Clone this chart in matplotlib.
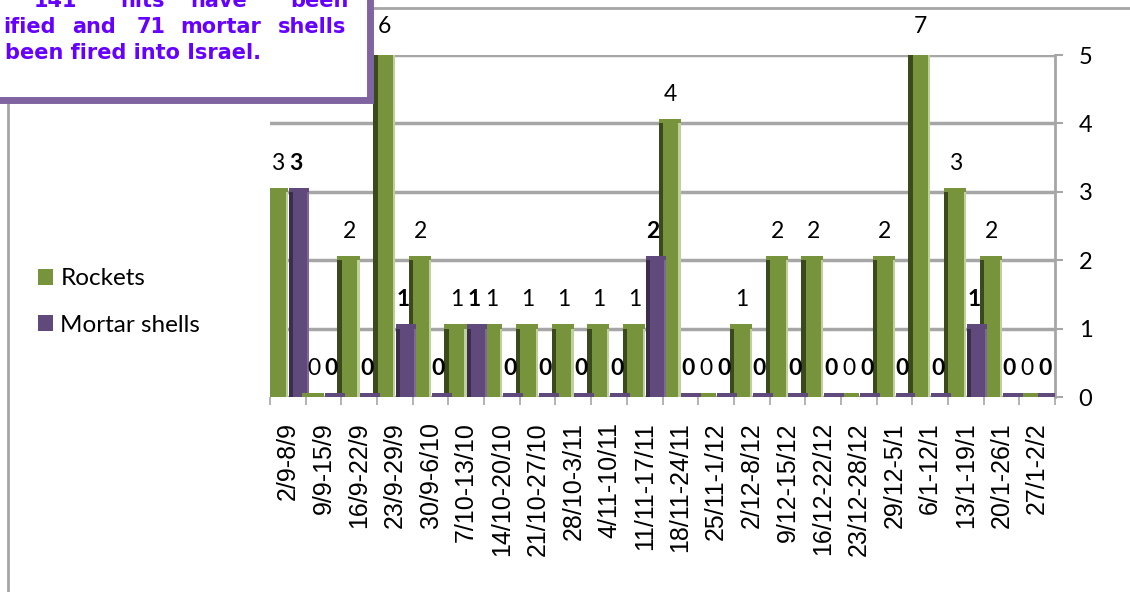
import numpy as np
import matplotlib.pyplot as plt
from matplotlib.patches import Patch, Rectangle
from matplotlib.lines import Line2D

weeks = ['2/9-8/9', '9/9-15/9', '16/9-22/9', '23/9-29/9', '30/9-6/10', '7/10-13/10',
         '14/10-20/10', '21/10-27/10', '28/10-3/11', '4/11-10/11', '11/11-17/11',
         '18/11-24/11', '25/11-1/12', '2/12-8/12', '9/12-15/12', '16/12-22/12',
         '23/12-28/12', '29/12-5/1', '6/1-12/1', '13/1-19/1', '20/1-26/1', '27/1-2/2']
rockets = [3, 0, 2, 6, 2, 1, 1, 1, 1, 1, 1, 4, 0, 1, 2, 2, 0, 2, 7, 3, 2, 0]
mortars = [3, 0, 0, 1, 0, 1, 0, 0, 0, 0, 2, 0, 0, 0, 0, 0, 0, 0, 0, 1, 0, 0]
yticks = [0, 1, 2, 3, 4, 5]

W, H = 1130, 592
YMAX = 5
GREEN, GREEN_DK, GREEN_LT = '#77933c', '#3a4a1c', '#bfd19a'
PURPLE, PURPLE_DK, PURPLE_LT = '#604a7b', '#3b2d4c', '#7d6898'
GRID = '#a6a6a6'


def fx(px):
    return px / W


def fy(py):
    return 1 - py / H


def bars_3d(ax, xpos, vals, width, face, dark, light):
    shown = np.minimum(vals, YMAX)
    side = width * 0.2
    ax.bar(xpos, shown, width, color=face, zorder=3, linewidth=0)
    ax.bar(xpos - width / 2 + side / 2, shown, side, color=dark, zorder=3, linewidth=0)
    ax.bar(xpos + width / 2 - side / 4, shown, side / 2, color=light, zorder=3, linewidth=0)
    # top face of the bar (also the flat strip for zero values)
    ax.bar(xpos, 0.06, width, bottom=shown, color=face, zorder=4, linewidth=0)
    return shown


fig = plt.figure(figsize=(W / 100, H / 100), dpi=100)
ax = fig.add_axes([fx(270), fy(397), fx(785), (397 - 55) / H])

x = np.arange(len(weeks))
r_shown = bars_3d(ax, x - 0.30, np.array(rockets), 0.62, GREEN, GREEN_DK, GREEN_LT)
m_shown = bars_3d(ax, x + 0.31, np.array(mortars), 0.56, PURPLE, PURPLE_DK, PURPLE_LT)

for i in range(len(weeks)):
    ax.text(x[i] - 0.28, r_shown[i] + 0.42, str(rockets[i]), ha='center', va='center',
            fontsize=16.5, family='Lato', color='black', clip_on=False)
    ax.text(x[i] + 0.22, m_shown[i] + 0.42, str(mortars[i]), ha='center', va='center',
            fontsize=16.5, family='Lato', fontweight='bold', color='black', clip_on=False)

ax.set_xlim(-0.5, len(weeks) - 0.5)
ax.set_ylim(0, YMAX)
ax.set_yticks(yticks)
ax.yaxis.tick_right()
ax.tick_params(axis='y', colors=GRID, labelcolor='black', labelsize=17, length=6,
               width=1.5, pad=11)
for lab in ax.get_yticklabels():
    lab.set_family('Lato')
ax.yaxis.grid(True, color=GRID, linewidth=2.5)
ax.set_axisbelow(True)

ax.set_xticks(x)
ax.set_xticklabels(weeks, rotation=90, fontsize=18, family='Liberation Sans', va='top')
ax.set_xticks(np.arange(len(weeks) + 1) - 0.5, minor=True)
ax.tick_params(axis='x', which='major', length=0, pad=18)
ax.tick_params(axis='x', which='minor', length=6, width=1.2, color=GRID)

for s in ['top', 'left', 'bottom']:
    ax.spines[s].set_visible(False)
ax.spines['right'].set_color(GRID)
ax.spines['right'].set_linewidth(2)

# legend
handles = [Patch(facecolor=GREEN, label='Rockets'),
           Patch(facecolor=PURPLE, label='Mortar shells')]
fig.legend(handles=handles, loc='center left', bbox_to_anchor=(fx(38), fy(302)),
           frameon=False, prop={'family': 'Lato', 'size': 17.5}, handlelength=0.62,
           handleheight=0.62, handletextpad=0.3, labelspacing=1.05,
           borderpad=0, borderaxespad=0)

# chart area border lines
fig.add_artist(Line2D([fx(8), fx(8)], [fy(100), fy(592)], color=GRID, lw=2))
fig.add_artist(Line2D([fx(370), fx(1130)], [fy(8), fy(8)], color=GRID, lw=2))

# text box in the upper left corner (partly cut off)
fig.add_artist(Rectangle((fx(-20), fy(100)), fx(390), 130 / H, transform=fig.transFigure,
                         facecolor='white', edgecolor='#8064a2', linewidth=5, zorder=5))
box_lines = [
    [('141', 34), ('hits', 120), ('have', 190), ('been', 290)],
    [('ified', 3), ('and', 72), ('71', 137), ('mortar', 180), ('shells', 278)],
    [('been fired into Israel.', 5)],
]
for row, words in enumerate(box_lines):
    for word, px in words:
        fig.text(fx(px), fy(1 + 26 * row), word, ha='left', va='center', fontsize=15,
                 family='DejaVu Sans', fontweight='bold', color='#6600ff', zorder=6)

fig.savefig('out.png', dpi=100)
